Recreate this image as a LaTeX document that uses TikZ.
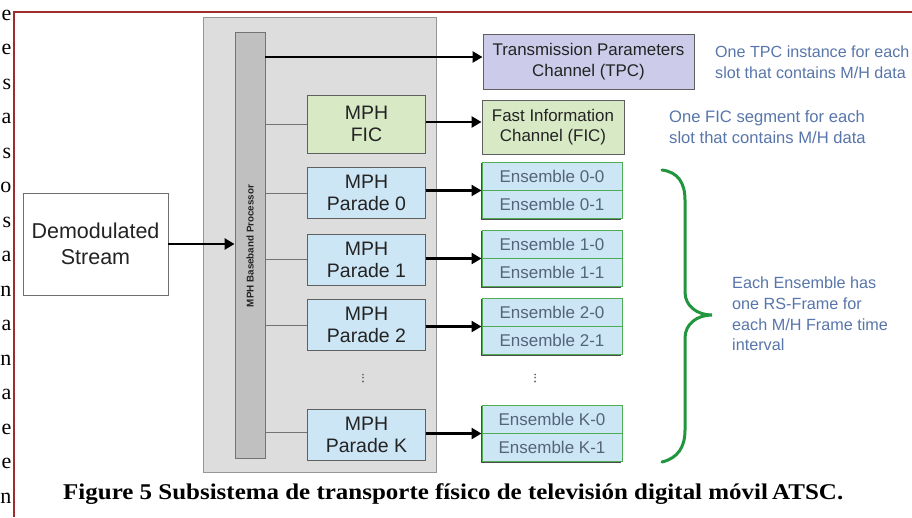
\documentclass[tikz,border=0pt]{standalone}
\usepackage{fontspec}
\usepackage{graphicx}
\usetikzlibrary{arrows.meta}
\newfontfamily\arialf{Liberation Sans}
\newfontfamily\timesf{Liberation Serif}
\newsavebox\capbox
\definecolor{redline}{RGB}{160,45,45}
\definecolor{outerfill}{RGB}{221,221,221}
\definecolor{outerline}{RGB}{150,150,150}
\definecolor{barfill}{RGB}{192,192,192}
\definecolor{barline}{RGB}{115,115,115}
\definecolor{boxline}{RGB}{95,95,95}
\definecolor{ficgreen}{RGB}{216,233,198}
\definecolor{paradeblue}{RGB}{205,230,246}
\definecolor{tpcfill}{RGB}{204,204,234}
\definecolor{ensline}{RGB}{78,172,82}
\definecolor{enstext}{RGB}{84,100,122}
\definecolor{annot}{RGB}{88,118,170}
\definecolor{bracegreen}{RGB}{34,150,62}
\definecolor{txtdark}{RGB}{35,35,35}
\definecolor{dotgray}{RGB}{110,110,110}
\begin{document}
\sbox\capbox{\timesf\fontsize{22.5}{26}\selectfont\bfseries Figure 5 Subsistema de transporte físico de televisión digital móvil\,ATSC.}%
\begin{tikzpicture}[x=1pt,y=-1pt,
  box/.style={draw=boxline, line width=0.9pt, inner sep=0pt, align=center, text=txtdark},
  bigtxt/.style={font=\arialf\fontsize{19.5}{22}\selectfont},
  midtxt/.style={font=\arialf\fontsize{16.9}{20.5}\selectfont},
  parade/.style={box, bigtxt, fill=paradeblue, minimum width=118pt, minimum height=51pt},
  ens/.style={draw=ensline, line width=1pt, fill=paradeblue, inner sep=0pt, minimum width=140pt, minimum height=28pt, text=enstext, font=\arialf\fontsize{17}{19}\selectfont},
  ensshadow/.style={fill=black!70},
  note/.style={anchor=west, align=left, inner sep=0pt, text=annot, font=\arialf\fontsize{16.6}{20.5}\selectfont},
  thickarrow/.style={line width=2.8pt, -{Triangle[length=10pt,width=11pt]}},
  thinline/.style={draw=barline, line width=0.9pt},
  margin/.style={anchor=base east, inner sep=0pt, font=\timesf\fontsize{22}{24}\selectfont}]
\useasboundingbox (0,0) rectangle (912,517);
\fill[white] (0,0) rectangle (912,517);

% margin letters of the page text
\foreach \l [count=\i from 0] in {e,e,s,a,s,o,s,a,n,a,n,a,e,e,n}
  \node[margin] (m\i) at (11.5,{20+34.5*\i}) {\l};

% red frame
\draw[redline, line width=2pt] (14,517) -- (14,12) -- (912,12);

% outer gray box and processor bar
\node[draw=outerline, fill=outerfill, line width=1pt, minimum width=233pt, minimum height=455pt, inner sep=0pt] (outer) at (319.5,244.5) {};
\node[draw=barline, fill=barfill, line width=0.9pt, minimum width=30pt, minimum height=426pt, inner sep=0pt] (bar) at (250,245) {};
\node[rotate=90, inner sep=0pt, text=txtdark, font=\arialf\bfseries\fontsize{9.8}{11}\selectfont] (barlabel) at (250,246) {MPH Baseband Processor};

% demodulated stream
\node[box, draw=boxline!90, fill=white, minimum width=145pt, minimum height=102pt, font=\arialf\fontsize{21.5}{26}\selectfont] (demod) at (95.5,244) {Demodulated\\Stream};

% inner blocks
\node[box, bigtxt, fill=ficgreen, minimum width=118pt, minimum height=58pt] (fic) at (366.5,124) {MPH\\FIC};
\node[parade] (p0) at (366.5,193) {MPH\\Parade 0};
\node[parade] (p1) at (366.5,259.5) {MPH\\Parade 1};
\node[parade] (p2) at (366.5,325) {MPH\\Parade 2};
\node[parade] (pk) at (366.5,434.5) {MPH\\Parade K};

% right column
\node[box, midtxt, fill=tpcfill, minimum width=211pt, minimum height=55pt] (tpc) at (588.5,61.5) {Transmission Parameters\\Channel (TPC)};
\node[box, midtxt, fill=ficgreen, minimum width=142pt, minimum height=54pt] (ficch) at (553,127) {Fast Information\\Channel (FIC)};

% ensembles (with shadows)
\foreach \g/\yt in {0/162,1/230,2/298,K/405}{
  \fill[ensshadow] (480.5,{\yt+1}) rectangle (621,{\yt+57.5});
}
\node[ens] (e00) at (552,176) {Ensemble 0-0};
\node[ens] (e01) at (552,204) {Ensemble 0-1};
\node[ens] (e10) at (552,244) {Ensemble 1-0};
\node[ens] (e11) at (552,272) {Ensemble 1-1};
\node[ens] (e20) at (552,312) {Ensemble 2-0};
\node[ens] (e21) at (552,340) {Ensemble 2-1};
\node[ens] (ek0) at (552,419) {Ensemble K-0};
\node[ens] (ek1) at (552,447) {Ensemble K-1};

% dots
\foreach \x in {363,535}{
  \fill[dotgray] (\x,374.5) circle (1pt) (\x,377.5) circle (1pt) (\x,381.5) circle (1.1pt);
}

% connectors bar -> blocks
\draw[thinline] (bar.east |- fic.west) -- (fic.west);
\draw[thinline] (bar.east |- p0.west) -- (p0.west);
\draw[thinline] (bar.east |- p1.west) -- (p1.west);
\draw[thinline] (bar.east |- p2.west) -- (p2.west);
\coordinate (pkin) at ([yshift=2pt]pk.west);
\draw[thinline] (bar.east |- pkin) -- (pkin);

% thick arrows
\coordinate (tpcin) at ([yshift=4.5pt]tpc.west);
\coordinate (ficout) at ([yshift=2pt]fic.east);
\draw[thickarrow] (demod.east) -- (bar.west |- demod.east);
\draw[thickarrow] (bar.east |- tpcin) -- (tpcin);
\draw[thickarrow] (ficout) -- (ficout -| ficch.west);
\draw[thickarrow] (p0.east |- e00.south west) -- (e00.south west);
\draw[thickarrow] (p1.east |- e10.south west) -- (e10.south west);
\draw[thickarrow] (p2.east |- e20.south west) -- (e20.south west);
\draw[thickarrow] (pk.east |- ek0.south west) -- (ek0.south west);

% annotations
\node[note, font=\arialf\fontsize{16.1}{20.5}\selectfont] (ntpc) at (715,62) {One TPC instance for each\\slot that contains M/H data};
\node[note] (nfic) at (669,127) {One FIC segment for each\\slot that contains M/H data};
\node[note, font=\arialf\fontsize{16.2}{20.7}\selectfont] (nens) at (732,314) {Each Ensemble has\\one RS-Frame for\\each M/H Frame time\\interval};

% brace
\draw[bracegreen, line width=3pt, line cap=round]
  (662,170) .. controls (678,172) and (685,183) .. (685,200)
  -- (685,292) .. controls (685,306) and (697,315) .. (712,315)
  .. controls (697,315) and (685,324) .. (685,338)
  -- (685,430) .. controls (685,447) and (678,458) .. (662,462);

% caption
\pgfmathsetmacro\capsc{780/\wd\capbox}
\node[anchor=base west, inner sep=0pt, text=black!92] (cap) at (63,499) {\scalebox{\capsc}[1]{\usebox\capbox}};
\end{tikzpicture}
\end{document}
